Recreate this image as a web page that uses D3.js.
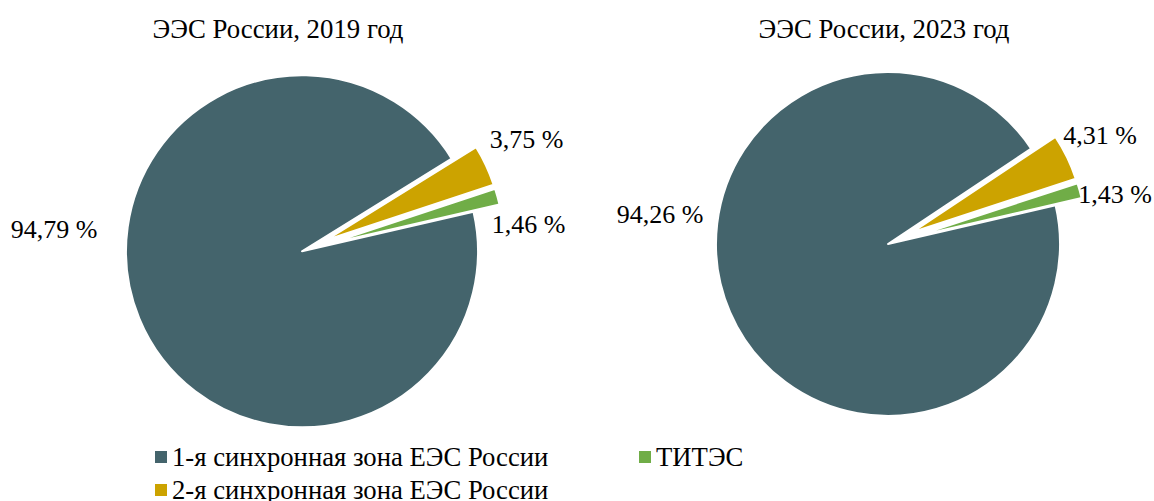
<!DOCTYPE html>
<html>
<head>
<meta charset="utf-8">
<script src="https://cdn.jsdelivr.net/npm/d3@7"></script>
<style>
  html, body { margin: 0; padding: 0; background: #ffffff; }
  svg { display: block; }
  text { font-family: "Liberation Serif", "Times New Roman", serif; fill: #000; }
</style>
</head>
<body>
<svg id="chart" width="1154" height="501"></svg>
<script>
// ---- data ----
const categories = ["1-я синхронная зона ЕЭС России", "2-я синхронная зона ЕЭС России", "ТИТЭС"];
const titles = ["ЭЭС России, 2019 год", "ЭЭС России, 2023 год"];
const values2019 = [94.79, 3.75, 1.46];
const values2023 = [94.26, 4.31, 1.43];
const exploded = [false, true, true];

// ---- styles / layout ----
const colors = ["#44646c", "#cca300", "#70ad47"];
const labelFont = 26;
const titleFont = 26.8;
const legendFont = 26.7;
const startDeg = 77;
const pies = [
  { values: values2019, title: titles[0], cx: 302, cy: 251.3, r: 176, explode: 27, titleX: 278, titleY: 37.5,
    labelOffsets: [[-248, -13.6], [224.7, -103.3], [226.7, -18.6]] },
  { values: values2023, title: titles[1], cx: 888, cy: 244, r: 172, explode: 27, titleX: 884, titleY: 37.5,
    labelOffsets: [[-228, -21.3], [212, -100.5], [227, -40.7]] }
];

const locale = d3.formatLocale({ decimal: ",", thousands: " ", grouping: [3], currency: ["", ""] });
const fmt = locale.format(".2f");

const svg = d3.select("#chart");
const toRad = d => d * Math.PI / 180;

pies.forEach(p => {
  const g = svg.append("g");
  const pie = d3.pie().sort(null)
    .startAngle(toRad(startDeg))
    .endAngle(toRad(startDeg) + 2 * Math.PI);
  const arc = d3.arc().innerRadius(0).outerRadius(p.r);
  const arcs = pie(p.values);

  g.selectAll("path.slice")
    .data(arcs)
    .join("path")
    .attr("class", "slice")
    .attr("d", arc)
    .attr("fill", (d, i) => colors[i])
    .attr("stroke", "#ffffff")
    .attr("stroke-width", 2)
    .attr("stroke-linejoin", "round")
    .attr("transform", (d, i) => {
      let ox = 0, oy = 0;
      if (exploded[i]) {
        const mid = (d.startAngle + d.endAngle) / 2;
        ox = Math.sin(mid) * p.explode;
        oy = -Math.cos(mid) * p.explode;
      }
      return `translate(${p.cx + ox},${p.cy + oy})`;
    });

  g.selectAll("text.lbl")
    .data(arcs)
    .join("text")
    .attr("class", "lbl")
    .attr("x", (d, i) => p.cx + p.labelOffsets[i][0])
    .attr("y", (d, i) => p.cy + p.labelOffsets[i][1])
    .attr("text-anchor", "middle")
    .attr("font-size", labelFont)
    .text(d => fmt(d.data) + " %");

  svg.append("text")
    .attr("x", p.titleX)
    .attr("y", p.titleY)
    .attr("text-anchor", "middle")
    .attr("font-size", titleFont)
    .text(p.title);
});

// ---- legend ----
const legendPos = [[155, 451], [155, 484], [639, 451]];
const lg = svg.append("g");
const items = lg.selectAll("g.item")
  .data(categories)
  .join("g")
  .attr("class", "item")
  .attr("transform", (d, i) => `translate(${legendPos[i][0]},${legendPos[i][1]})`);
items.append("rect")
  .attr("width", 12).attr("height", 12)
  .attr("fill", (d, i) => colors[i]);
items.append("text")
  .attr("x", 17)
  .attr("y", 15)
  .attr("font-size", legendFont)
  .text(d => d);
</script>
</body>
</html>
